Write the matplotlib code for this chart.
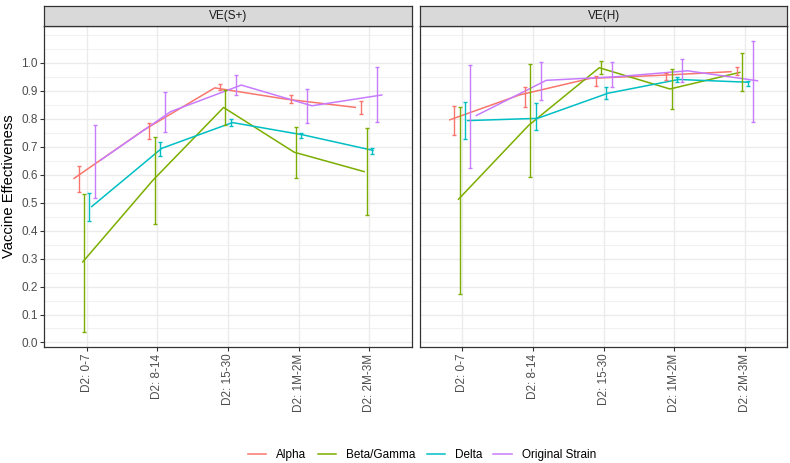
import numpy as np
import matplotlib
matplotlib.use("Agg")
import matplotlib.pyplot as plt
from matplotlib.lines import Line2D

plt.rcParams['font.family'] = ['Liberation Sans', 'DejaVu Sans']

categories = ["D2: 0-7", "D2: 8-14", "D2: 15-30", "D2: 1M-2M", "D2: 2M-3M"]
panels = ["VE(S+)", "VE(H)"]
strains = ["Alpha", "Beta/Gamma", "Delta", "Original Strain"]
colors = ["#F8766D", "#7CAE00", "#00BFC4", "#C77CFF"]
ytick_values = [0.0, 0.1, 0.2, 0.3, 0.4, 0.5, 0.6, 0.7, 0.8, 0.9, 1.0]

# VE(S+)
alpha_s = [0.585, 0.76, 0.91, 0.87, 0.84]
alpha_s_lo = [0.539, 0.726, 0.903, 0.855, 0.817]
alpha_s_hi = [0.629, 0.786, 0.923, 0.885, 0.863]
beta_s = [0.286, 0.58, 0.84, 0.68, 0.61]
beta_s_lo = [0.036, 0.423, 0.777, 0.589, 0.456]
beta_s_hi = [0.530, 0.734, 0.902, 0.769, 0.768]
delta_s = [0.484, 0.694, 0.786, 0.742, 0.686]
delta_s_lo = [0.435, 0.668, 0.775, 0.730, 0.674]
delta_s_hi = [0.534, 0.718, 0.799, 0.750, 0.696]
orig_s = [0.65, 0.825, 0.92, 0.846, 0.885]
orig_s_lo = [0.516, 0.754, 0.885, 0.783, 0.789]
orig_s_hi = [0.778, 0.894, 0.956, 0.906, 0.986]

# VE(H)
alpha_h = [0.795, 0.885, 0.944, 0.955, 0.968]
alpha_h_lo = [0.742, 0.843, 0.917, 0.938, 0.956]
alpha_h_hi = [0.846, 0.914, 0.954, 0.962, 0.986]
beta_h = [0.51, 0.776, 0.982, 0.906, 0.966]
beta_h_lo = [0.173, 0.593, 0.959, 0.835, 0.900]
beta_h_hi = [0.841, 0.994, 1.007, 0.977, 1.034]
delta_h = [0.793, 0.801, 0.891, 0.94, 0.93]
delta_h_lo = [0.726, 0.760, 0.870, 0.932, 0.918]
delta_h_hi = [0.858, 0.855, 0.914, 0.948, 0.936]
orig_h = [0.81, 0.937, 0.95, 0.971, 0.935]
orig_h_lo = [0.625, 0.867, 0.914, 0.930, 0.787]
orig_h_hi = [0.992, 1.004, 1.001, 1.013, 1.079]

panel_data = {
    "VE(S+)": [(alpha_s, alpha_s_lo, alpha_s_hi), (beta_s, beta_s_lo, beta_s_hi),
               (delta_s, delta_s_lo, delta_s_hi), (orig_s, orig_s_lo, orig_s_hi)],
    "VE(H)": [(alpha_h, alpha_h_lo, alpha_h_hi), (beta_h, beta_h_lo, beta_h_hi),
              (delta_h, delta_h_lo, delta_h_hi), (orig_h, orig_h_lo, orig_h_hi)],
}

W, H = 790, 463
fig = plt.figure(figsize=(W / 100, H / 100), dpi=100)

# y limits (ggplot-style 5% expansion)
all_lo = min(min(t[1]) for p in panel_data.values() for t in p)
all_hi = max(max(t[2]) for p in panel_data.values() for t in p)
rng = all_hi - all_lo
ylim = (all_lo - 0.05 * rng, all_hi + 0.05 * rng)

n = len(strains)
line_dodge = 0.5
err_dodge = 0.3
cap = 0.028

panel_top_px = 26
panel_bot_px = 347
panel_lefts = [44.3, 420.0]
panel_w = 367.4
strip_h = 20

tick_color = "#333333"
minor_breaks = [0.05 + 0.1 * k for k in range(11)] + [1.1]

for pi, pname in enumerate(panels):
    left = panel_lefts[pi] / W
    bottom = (H - panel_bot_px) / H
    height = (panel_bot_px - panel_top_px) / H
    ax = fig.add_axes([left, bottom, panel_w / W, height])
    x = np.arange(len(categories))
    for j, (est, lo, hi) in enumerate(panel_data[pname]):
        off_l = (j - (n - 1) / 2) * line_dodge / n
        off_e = (j - (n - 1) / 2) * err_dodge / n
        ax.plot(x + off_l, est, color=colors[j], lw=1.1, zorder=3, solid_capstyle='butt')
    for j, (est, lo, hi) in enumerate(panel_data[pname]):
        off_e = (j - (n - 1) / 2) * err_dodge / n
        xe = x + off_e
        ax.vlines(xe, lo, hi, color=colors[j], lw=1.0, zorder=4)
        ax.hlines(lo, xe - cap, xe + cap, color=colors[j], lw=1.0, zorder=4)
        ax.hlines(hi, xe - cap, xe + cap, color=colors[j], lw=1.0, zorder=4)
    ax.set_xlim(-0.6, len(categories) - 0.4)
    ax.set_ylim(*ylim)
    ax.set_xticks(x)
    ax.set_xticklabels(categories, rotation=90, ha='center', va='top',
                       fontsize=8.5, color="#4D4D4D")
    ax.set_yticks(ytick_values)
    ax.set_yticks([m for m in minor_breaks if ylim[0] < m < ylim[1]], minor=True)
    if pi == 0:
        ax.set_yticklabels([f"{v:.1f}" for v in ytick_values], fontsize=8.5, color="#4D4D4D")
        ax.tick_params(axis='y', which='major', length=2.7, width=0.8, color=tick_color, pad=2)
    else:
        ax.set_yticklabels([])
        ax.tick_params(axis='y', which='major', length=0)
    ax.tick_params(axis='y', which='minor', length=0)
    ax.tick_params(axis='x', which='major', length=2.7, width=0.8, color=tick_color, pad=2)
    ax.grid(which='major', color='#EBEBEB', lw=1.0)
    ax.grid(which='minor', axis='y', color='#EBEBEB', lw=0.5)
    ax.set_axisbelow(True)
    for s in ax.spines.values():
        s.set_color(tick_color)
        s.set_linewidth(0.9)

    # strip
    sax = fig.add_axes([left, (H - panel_top_px) / H, panel_w / W, strip_h / H])
    sax.set_facecolor("#D9D9D9")
    sax.set_xticks([])
    sax.set_yticks([])
    for s in sax.spines.values():
        s.set_color(tick_color)
        s.set_linewidth(0.9)
    sax.text(0.5, 0.5, pname, ha='center', va='center', fontsize=8.5,
             color="#1A1A1A", transform=sax.transAxes)

fig.text(9 / W, (H - (panel_top_px + panel_bot_px) / 2) / H, "Vaccine Effectiveness",
         rotation=90, ha='center', va='center', fontsize=10.6, color='black')

handles = [Line2D([0], [0], color=c, lw=1.1) for c in colors]
fig.legend(handles, strains, loc='center', bbox_to_anchor=(422 / W, (H - 455) / H),
           ncol=4, frameon=False, fontsize=8.5, handlelength=1.55,
           handletextpad=0.85, columnspacing=0.95)

fig.savefig("out.png", dpi=100)
